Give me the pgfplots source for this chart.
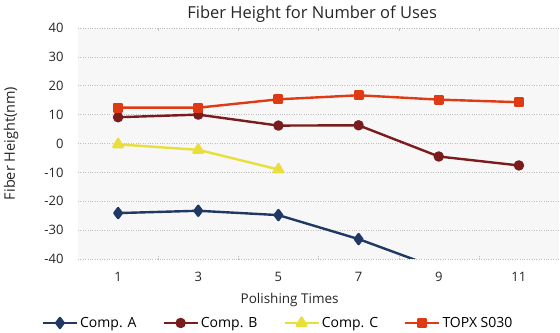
\documentclass[border=0pt]{standalone}
\usepackage{pgfplots}
\pgfplotsset{compat=1.18}
\usepackage{fontspec}
\setmainfont{Open Sans}
\definecolor{cA}{HTML}{1F3864}
\definecolor{cB}{HTML}{7A1C1E}
\definecolor{cC}{HTML}{E8DF3A}
\definecolor{cD}{HTML}{E03A14}
\definecolor{bgc}{HTML}{F7F7F7}
\begin{document}
\begin{tikzpicture}
\begin{axis}[
  scale only axis,
  width=481pt, height=231pt,
  xmin=0, xmax=12, ymin=-40, ymax=40,
  xtick={1,3,5,7,9,11},
  ytick={-40,-30,...,40},
  minor xtick={2,4,6,8,10},
  axis line style={draw=none},
  axis background/.style={fill=bgc},
  major tick length=0pt,
  minor tick length=3pt,
  minor tick style={gray!50, densely dotted},
  ymajorgrids,
  grid style={gray!50, dotted, line width=0.6pt},
  /pgf/number format/assume math mode=true,
  tick label style={font=\fontsize{13}{15}\selectfont, text=black!85},
  yticklabel style={xshift=-11pt},
  xticklabel style={yshift=-10pt},
  title={Fiber Height for Number of Uses},
  title style={font=\fontsize{16.5}{18}\selectfont, at={(axis description cs:0.487,1)}, anchor=south, yshift=-4pt, text=black!85},
  xlabel={Polishing Times},
  xlabel style={font=\fontsize{13.5}{15}\selectfont, at={(axis description cs:0.44,0)}, anchor=north, yshift=-31pt, text=black!85},
  ylabel={Fiber Height(nm)},
  ylabel style={font=\fontsize{14.5}{16}\selectfont, at={(axis description cs:-0.139,0.5)}, anchor=center, text=black!85},
  legend columns=4,
  legend style={draw=none, fill=none, at={(axis description cs:0.416,-0.277)}, anchor=center,
    font=\fontsize{14}{16}\selectfont, /tikz/every even column/.append style={column sep=24pt}},
  legend image code/.code={\draw[#1] (0pt,0pt) -- (34pt,0pt); \draw[#1, mark repeat=2, mark phase=2] plot coordinates {(0pt,0pt) (17pt,0pt) (34pt,0pt)};},
  clip=true,
  every axis plot/.append style={line width=2.4pt, line join=round},
]
\addplot[cA, mark=diamond*, mark size=5pt] coordinates {(1,-24.1) (3,-23.3) (5,-24.8) (7,-33.1) (9,-43.3)};
\addlegendentry{Comp. A}
\addplot[cB, mark=*, mark size=4pt] coordinates {(1,9.1) (3,10.0) (5,6.2) (7,6.3) (9,-4.5) (11,-7.6)};
\addlegendentry{Comp. B}
\addplot[cC, mark=triangle*, mark size=5.5pt] coordinates {(1,-0.3) (3,-2.2) (5,-9.0)};
\addlegendentry{Comp. C}
\addplot[cD, mark=square*, mark size=3.8pt] coordinates {(1,12.4) (3,12.4) (5,15.3) (7,16.7) (9,15.2) (11,14.3)};
\addlegendentry{TOPX S030}
\end{axis}
\pgfresetboundingbox
\path[use as bounding box] ([xshift=-78pt,yshift=-74pt]current axis.south west) rectangle ([xshift=1pt,yshift=28pt]current axis.north east);
\end{tikzpicture}
\end{document}
